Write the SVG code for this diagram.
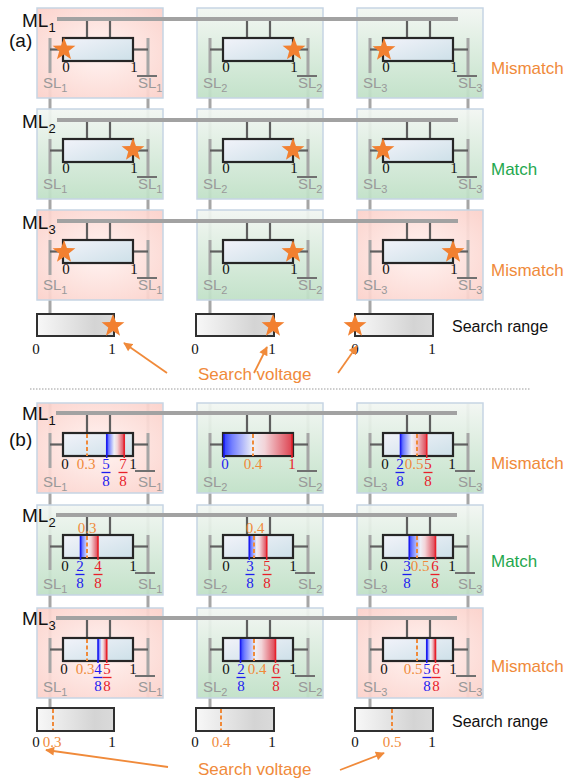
<svg xmlns="http://www.w3.org/2000/svg" xmlns:xlink="http://www.w3.org/1999/xlink" width="569" height="778" viewBox="0 0 569 778">
<defs>
<style>
.cell{stroke:#c6d5e4;stroke-width:1.5;fill-opacity:0.93}
.pink{fill:url(#gP)}
.green{fill:url(#gG)}
.ml{stroke:#a2a2a2;stroke-width:4}
.sl{stroke:#a6a6a6;stroke-width:3}
.wire{stroke:#5f5f5f;stroke-width:2.2}
.box{fill:url(#gBox);stroke:#262626;stroke-width:2.2}
.bar{fill:url(#gBar);stroke:#303030;stroke-width:2}
.band{fill:url(#gBand)}
.n{font-family:"Liberation Serif","Times New Roman",serif;font-size:15px;text-anchor:middle;fill:#111}
.slt{font-family:"Liberation Sans",Arial,sans-serif;font-size:15px;fill:#999}
.sub{font-size:11px}
.ovl{stroke:#707070;stroke-width:2}
.dash{stroke:#f08a3a;stroke-width:2;stroke-dasharray:4 2.5}
.b{fill:#1c1cf0}.r{fill:#e8202a}.o{fill:#f08a3a}
.fb{stroke:#1c1cf0;stroke-width:1.3}.fr{stroke:#e8202a;stroke-width:1.3}
.tb{stroke:#1c1cf0;stroke-width:1.6}.tr{stroke:#e8202a;stroke-width:1.6}
.lab{font-family:"Liberation Sans",Arial,sans-serif;font-size:19px;fill:#111}
.lsub{font-size:13px}
.res{font-family:"Liberation Sans",Arial,sans-serif;font-size:17px}
.star{fill:#f28030}
.arrow{stroke:#f08a3a;stroke-width:1.8;fill:none;marker-end:url(#arr)}
</style>
<radialGradient id="gP" cx="0.5" cy="0.5" r="0.7"><stop offset="0" stop-color="#fff3f1"/><stop offset="1" stop-color="#fbd0c9"/></radialGradient>
<linearGradient id="gG" x1="0" y1="0" x2="0" y2="1"><stop offset="0" stop-color="#f2f6f2"/><stop offset="1" stop-color="#bfe0c6"/></linearGradient>
<linearGradient id="gBox" x1="0" y1="0" x2="1" y2="1"><stop offset="0" stop-color="#f2f3fa"/><stop offset="1" stop-color="#cde0e8"/></linearGradient>
<linearGradient id="gBar" x1="0" y1="0" x2="1" y2="0"><stop offset="0" stop-color="#f8f8f8"/><stop offset="0.75" stop-color="#d4d4d4"/><stop offset="1" stop-color="#dadada"/></linearGradient>
<linearGradient id="gBand" x1="0" y1="0" x2="1" y2="0"><stop offset="0" stop-color="#3040ff"/><stop offset="0.12" stop-color="#7480ff"/><stop offset="0.42" stop-color="#eef0f6"/><stop offset="0.6" stop-color="#f3d4d8"/><stop offset="1" stop-color="#dd4452"/></linearGradient>
<path id="star" d="M0,-12 L2.94,-4.05 L11.41,-3.71 L4.76,1.55 L7.05,9.71 L0,5 L-7.05,9.71 L-4.76,1.55 L-11.41,-3.71 L-2.94,-4.05 Z"/>
<marker id="arr" viewBox="0 0 10 10" refX="9" refY="5" markerWidth="10" markerHeight="9" markerUnits="userSpaceOnUse" orient="auto"><path d="M0,0 L10,5 L0,10 Z" fill="#f08a3a"/></marker>
</defs>
<rect x="0" y="0" width="569" height="778" fill="#ffffff"/>

<g id="connectors">
<line class="sl" x1="50" y1="38" x2="50" y2="314"/>
<line class="sl" x1="148" y1="38" x2="148" y2="299"/>
<line class="sl" x1="210" y1="38" x2="210" y2="314"/>
<line class="sl" x1="308" y1="38" x2="308" y2="299"/>
<line class="sl" x1="370" y1="38" x2="370" y2="314"/>
<line class="sl" x1="468" y1="38" x2="468" y2="299"/>
<line class="sl" x1="50" y1="403" x2="50" y2="708"/>
<line class="sl" x1="148" y1="403" x2="148" y2="698"/>
<line class="sl" x1="210" y1="403" x2="210" y2="708"/>
<line class="sl" x1="308" y1="403" x2="308" y2="698"/>
<line class="sl" x1="370" y1="403" x2="370" y2="708"/>
<line class="sl" x1="468" y1="403" x2="468" y2="698"/>
</g>

<g id="a-r1-c1">
<rect class="cell pink" x="37" y="8" width="126" height="90"/>
<line class="wire" x1="87" y1="19" x2="87" y2="38"/><line class="wire" x1="110" y1="19" x2="110" y2="38"/>
<line class="sl" x1="50" y1="38" x2="50" y2="73"/><line class="sl" x1="148" y1="38" x2="148" y2="75"/>
<line class="wire" x1="50" y1="49.5" x2="63" y2="49.5"/><line class="wire" x1="133" y1="49.5" x2="148" y2="49.5"/>
<rect class="box" x="63" y="38" width="70" height="23"/>
<text class="n" x="66" y="72">0</text><text class="n" x="134" y="72">1</text>
<line class="ovl" x1="137" y1="76" x2="157" y2="76"/>
<text class="slt" x="43" y="88">SL<tspan class="sub" dy="4">1</tspan></text>
<text class="slt" x="138" y="88">SL<tspan class="sub" dy="4">1</tspan></text>
<use xlink:href="#star" class="star" x="64" y="49.5"/>
</g>
<g id="a-r1-c2">
<rect class="cell green" x="197" y="8" width="126" height="90"/>
<line class="wire" x1="247" y1="19" x2="247" y2="38"/><line class="wire" x1="270" y1="19" x2="270" y2="38"/>
<line class="sl" x1="210" y1="38" x2="210" y2="73"/><line class="sl" x1="308" y1="38" x2="308" y2="75"/>
<line class="wire" x1="210" y1="49.5" x2="223" y2="49.5"/><line class="wire" x1="293" y1="49.5" x2="308" y2="49.5"/>
<rect class="box" x="223" y="38" width="70" height="23"/>
<text class="n" x="226" y="72">0</text><text class="n" x="294" y="72">1</text>
<line class="ovl" x1="297" y1="76" x2="317" y2="76"/>
<text class="slt" x="203" y="88">SL<tspan class="sub" dy="4">2</tspan></text>
<text class="slt" x="298" y="88">SL<tspan class="sub" dy="4">2</tspan></text>
<use xlink:href="#star" class="star" x="294" y="49.5"/>
</g>
<g id="a-r1-c3">
<rect class="cell green" x="357" y="8" width="126" height="90"/>
<line class="wire" x1="407" y1="19" x2="407" y2="38"/><line class="wire" x1="430" y1="19" x2="430" y2="38"/>
<line class="sl" x1="370" y1="38" x2="370" y2="73"/><line class="sl" x1="468" y1="38" x2="468" y2="75"/>
<line class="wire" x1="370" y1="49.5" x2="383" y2="49.5"/><line class="wire" x1="453" y1="49.5" x2="468" y2="49.5"/>
<rect class="box" x="383" y="38" width="70" height="23"/>
<text class="n" x="386" y="72">0</text><text class="n" x="454" y="72">1</text>
<line class="ovl" x1="457" y1="76" x2="477" y2="76"/>
<text class="slt" x="363" y="88">SL<tspan class="sub" dy="4">3</tspan></text>
<text class="slt" x="458" y="88">SL<tspan class="sub" dy="4">3</tspan></text>
<use xlink:href="#star" class="star" x="384" y="50"/>
</g>

<g id="a-r2-c1">
<rect class="cell green" x="37" y="109" width="126" height="90"/>
<line class="wire" x1="87" y1="120" x2="87" y2="139"/><line class="wire" x1="110" y1="120" x2="110" y2="139"/>
<line class="sl" x1="50" y1="139" x2="50" y2="174"/><line class="sl" x1="148" y1="139" x2="148" y2="176"/>
<line class="wire" x1="50" y1="150.5" x2="63" y2="150.5"/><line class="wire" x1="133" y1="150.5" x2="148" y2="150.5"/>
<rect class="box" x="63" y="139" width="70" height="23"/>
<text class="n" x="66" y="173">0</text><text class="n" x="134" y="173">1</text>
<line class="ovl" x1="137" y1="177" x2="157" y2="177"/>
<text class="slt" x="43" y="189">SL<tspan class="sub" dy="4">1</tspan></text>
<text class="slt" x="138" y="189">SL<tspan class="sub" dy="4">1</tspan></text>
<use xlink:href="#star" class="star" x="133" y="150"/>
</g>
<g id="a-r2-c2">
<rect class="cell green" x="197" y="109" width="126" height="90"/>
<line class="wire" x1="247" y1="120" x2="247" y2="139"/><line class="wire" x1="270" y1="120" x2="270" y2="139"/>
<line class="sl" x1="210" y1="139" x2="210" y2="174"/><line class="sl" x1="308" y1="139" x2="308" y2="176"/>
<line class="wire" x1="210" y1="150.5" x2="223" y2="150.5"/><line class="wire" x1="293" y1="150.5" x2="308" y2="150.5"/>
<rect class="box" x="223" y="139" width="70" height="23"/>
<text class="n" x="226" y="173">0</text><text class="n" x="294" y="173">1</text>
<line class="ovl" x1="297" y1="177" x2="317" y2="177"/>
<text class="slt" x="203" y="189">SL<tspan class="sub" dy="4">2</tspan></text>
<text class="slt" x="298" y="189">SL<tspan class="sub" dy="4">2</tspan></text>
<use xlink:href="#star" class="star" x="293" y="150"/>
</g>
<g id="a-r2-c3">
<rect class="cell green" x="357" y="109" width="126" height="90"/>
<line class="wire" x1="407" y1="120" x2="407" y2="139"/><line class="wire" x1="430" y1="120" x2="430" y2="139"/>
<line class="sl" x1="370" y1="139" x2="370" y2="174"/><line class="sl" x1="468" y1="139" x2="468" y2="176"/>
<line class="wire" x1="370" y1="150.5" x2="383" y2="150.5"/><line class="wire" x1="453" y1="150.5" x2="468" y2="150.5"/>
<rect class="box" x="383" y="139" width="70" height="23"/>
<text class="n" x="386" y="173">0</text><text class="n" x="454" y="173">1</text>
<line class="ovl" x1="457" y1="177" x2="477" y2="177"/>
<text class="slt" x="363" y="189">SL<tspan class="sub" dy="4">3</tspan></text>
<text class="slt" x="458" y="189">SL<tspan class="sub" dy="4">3</tspan></text>
<use xlink:href="#star" class="star" x="383" y="150"/>
</g>

<g id="a-r3-c1">
<rect class="cell pink" x="37" y="210" width="126" height="90"/>
<line class="wire" x1="87" y1="221" x2="87" y2="240"/><line class="wire" x1="110" y1="221" x2="110" y2="240"/>
<line class="sl" x1="50" y1="240" x2="50" y2="275"/><line class="sl" x1="148" y1="240" x2="148" y2="277"/>
<line class="wire" x1="50" y1="251.5" x2="63" y2="251.5"/><line class="wire" x1="133" y1="251.5" x2="148" y2="251.5"/>
<rect class="box" x="63" y="240" width="70" height="23"/>
<text class="n" x="66" y="274">0</text><text class="n" x="134" y="274">1</text>
<line class="ovl" x1="137" y1="278" x2="157" y2="278"/>
<text class="slt" x="43" y="290">SL<tspan class="sub" dy="4">1</tspan></text>
<text class="slt" x="138" y="290">SL<tspan class="sub" dy="4">1</tspan></text>
<use xlink:href="#star" class="star" x="64" y="252"/>
</g>
<g id="a-r3-c2">
<rect class="cell green" x="197" y="210" width="126" height="90"/>
<line class="wire" x1="247" y1="221" x2="247" y2="240"/><line class="wire" x1="270" y1="221" x2="270" y2="240"/>
<line class="sl" x1="210" y1="240" x2="210" y2="275"/><line class="sl" x1="308" y1="240" x2="308" y2="277"/>
<line class="wire" x1="210" y1="251.5" x2="223" y2="251.5"/><line class="wire" x1="293" y1="251.5" x2="308" y2="251.5"/>
<rect class="box" x="223" y="240" width="70" height="23"/>
<text class="n" x="226" y="274">0</text><text class="n" x="294" y="274">1</text>
<line class="ovl" x1="297" y1="278" x2="317" y2="278"/>
<text class="slt" x="203" y="290">SL<tspan class="sub" dy="4">2</tspan></text>
<text class="slt" x="298" y="290">SL<tspan class="sub" dy="4">2</tspan></text>
<use xlink:href="#star" class="star" x="293" y="252"/>
</g>
<g id="a-r3-c3">
<rect class="cell pink" x="357" y="210" width="126" height="90"/>
<line class="wire" x1="407" y1="221" x2="407" y2="240"/><line class="wire" x1="430" y1="221" x2="430" y2="240"/>
<line class="sl" x1="370" y1="240" x2="370" y2="275"/><line class="sl" x1="468" y1="240" x2="468" y2="277"/>
<line class="wire" x1="370" y1="251.5" x2="383" y2="251.5"/><line class="wire" x1="453" y1="251.5" x2="468" y2="251.5"/>
<rect class="box" x="383" y="240" width="70" height="23"/>
<text class="n" x="386" y="274">0</text><text class="n" x="454" y="274">1</text>
<line class="ovl" x1="457" y1="278" x2="477" y2="278"/>
<text class="slt" x="363" y="290">SL<tspan class="sub" dy="4">3</tspan></text>
<text class="slt" x="458" y="290">SL<tspan class="sub" dy="4">3</tspan></text>
<use xlink:href="#star" class="star" x="453" y="252"/>
</g>

<g id="a-matchlines">
<line class="ml" x1="57" y1="19" x2="458" y2="19"/>
<line class="ml" x1="57" y1="120" x2="458" y2="120"/>
<line class="ml" x1="57" y1="221" x2="458" y2="221"/>
<text class="lab" x="22" y="27">ML<tspan class="lsub" dy="5">1</tspan></text>
<text class="lab" x="22" y="128">ML<tspan class="lsub" dy="5">2</tspan></text>
<text class="lab" x="22" y="229">ML<tspan class="lsub" dy="5">3</tspan></text>
<text class="lab" x="9" y="47">(a)</text>
<text class="res o" x="491" y="74">Mismatch</text>
<text class="res" x="491" y="175" fill="#1fa84f">Match</text>
<text class="res o" x="491" y="276">Mismatch</text>
</g>

<g id="a-search">
<rect class="bar" x="37" y="314" width="77" height="22"/>
<rect class="bar" x="196" y="314" width="78" height="22"/>
<rect class="bar" x="355" y="314" width="78" height="22"/>
<text class="n" x="36" y="354">0</text><text class="n" x="112" y="354">1</text>
<text class="n" x="195" y="354">0</text><text class="n" x="272" y="354">1</text>
<text class="n" x="355" y="354">0</text><text class="n" x="432" y="354">1</text>
<use xlink:href="#star" class="star" x="113" y="326"/>
<use xlink:href="#star" class="star" x="273" y="326"/>
<use xlink:href="#star" class="star" x="355" y="326"/>
<text class="res" x="452" y="332" style="font-size:16px" fill="#111">Search range</text>
<text class="res o" x="198" y="380">Search voltage</text>
<line class="arrow" x1="167" y1="373" x2="124" y2="343"/>
<line class="arrow" x1="254" y1="373" x2="267" y2="347"/>
<line class="arrow" x1="338" y1="373" x2="357" y2="346"/>
</g>

<line x1="30" y1="389" x2="530" y2="389" stroke="#9a9a9a" stroke-width="1" stroke-dasharray="1.5 1.5"/>

<g id="b-r1-c1">
<rect class="cell pink" x="37" y="403" width="126" height="90"/>
<line class="wire" x1="87" y1="413" x2="87" y2="433"/><line class="wire" x1="110" y1="413" x2="110" y2="433"/>
<line class="sl" x1="50" y1="433" x2="50" y2="468"/><line class="sl" x1="148" y1="433" x2="148" y2="470"/>
<line class="wire" x1="50" y1="444.5" x2="63" y2="444.5"/><line class="wire" x1="133" y1="444.5" x2="148" y2="444.5"/>
<rect class="box" x="63" y="433" width="70" height="23"/>
<rect class="band" x="106.75" y="434" width="17.5" height="21"/>
<line class="tb" x1="106.75" y1="434" x2="106.75" y2="458"/><line class="tr" x1="124.25" y1="434" x2="124.25" y2="458"/>
<line class="dash" x1="87" y1="434" x2="87" y2="456"/>
<text class="n" x="65" y="469">0</text><text class="n o" x="86" y="469">0.3</text>
<text class="n b" x="106" y="469">5</text><line class="fb" x1="101.5" y1="472.5" x2="110.5" y2="472.5"/><text class="n b" x="106" y="486">8</text>
<text class="n r" x="123" y="469">7</text><line class="fr" x1="118.5" y1="472.5" x2="127.5" y2="472.5"/><text class="n r" x="123" y="486">8</text>
<text class="n" x="133" y="469">1</text>
<line class="ovl" x1="135" y1="471" x2="155" y2="471"/>
<text class="slt" x="43" y="487">SL<tspan class="sub" dy="4">1</tspan></text>
<text class="slt" x="138" y="487">SL<tspan class="sub" dy="4">1</tspan></text>
</g>
<g id="b-r1-c2">
<rect class="cell green" x="197" y="403" width="126" height="90"/>
<line class="wire" x1="247" y1="413" x2="247" y2="433"/><line class="wire" x1="270" y1="413" x2="270" y2="433"/>
<line class="sl" x1="210" y1="433" x2="210" y2="468"/><line class="sl" x1="308" y1="433" x2="308" y2="470"/>
<line class="wire" x1="210" y1="444.5" x2="223" y2="444.5"/><line class="wire" x1="293" y1="444.5" x2="308" y2="444.5"/>
<rect class="box" x="223" y="433" width="70" height="23"/>
<rect class="band" x="224" y="434" width="68" height="21"/>
<line class="tb" x1="224" y1="434" x2="224" y2="458"/><line class="tr" x1="292" y1="434" x2="292" y2="458"/>
<line class="dash" x1="253" y1="434" x2="253" y2="456"/>
<text class="n b" x="225" y="469">0</text><text class="n o" x="253" y="469">0.4</text><text class="n r" x="292" y="469">1</text>
<line class="ovl" x1="297" y1="471" x2="317" y2="471"/>
<text class="slt" x="203" y="487">SL<tspan class="sub" dy="4">2</tspan></text>
<text class="slt" x="298" y="487">SL<tspan class="sub" dy="4">2</tspan></text>
</g>
<g id="b-r1-c3">
<rect class="cell green" x="357" y="403" width="126" height="90"/>
<line class="wire" x1="407" y1="413" x2="407" y2="433"/><line class="wire" x1="430" y1="413" x2="430" y2="433"/>
<line class="sl" x1="370" y1="433" x2="370" y2="468"/><line class="sl" x1="468" y1="433" x2="468" y2="470"/>
<line class="wire" x1="370" y1="444.5" x2="383" y2="444.5"/><line class="wire" x1="453" y1="444.5" x2="468" y2="444.5"/>
<rect class="box" x="383" y="433" width="70" height="23"/>
<rect class="band" x="400.5" y="434" width="26.25" height="21"/>
<line class="tb" x1="400.5" y1="434" x2="400.5" y2="458"/><line class="tr" x1="426.75" y1="434" x2="426.75" y2="458"/>
<line class="dash" x1="417" y1="434" x2="417" y2="456"/>
<text class="n" x="385" y="469">0</text>
<text class="n b" x="400" y="469">2</text><line class="fb" x1="395.5" y1="472.5" x2="404.5" y2="472.5"/><text class="n b" x="400" y="486">8</text>
<text class="n o" x="414" y="469">0.5</text>
<text class="n r" x="428" y="469">5</text><line class="fr" x1="423.5" y1="472.5" x2="432.5" y2="472.5"/><text class="n r" x="428" y="486">8</text>
<text class="n" x="452" y="469">1</text>
<line class="ovl" x1="455" y1="471" x2="475" y2="471"/>
<text class="slt" x="363" y="487">SL<tspan class="sub" dy="4">3</tspan></text>
<text class="slt" x="458" y="487">SL<tspan class="sub" dy="4">3</tspan></text>
</g>

<g id="b-r2-c1">
<rect class="cell green" x="37" y="505" width="126" height="90"/>
<line class="wire" x1="87" y1="515" x2="87" y2="535"/><line class="wire" x1="110" y1="515" x2="110" y2="535"/>
<line class="sl" x1="50" y1="535" x2="50" y2="570"/><line class="sl" x1="148" y1="535" x2="148" y2="572"/>
<line class="wire" x1="50" y1="546.5" x2="63" y2="546.5"/><line class="wire" x1="133" y1="546.5" x2="148" y2="546.5"/>
<rect class="box" x="63" y="535" width="70" height="23"/>
<rect class="band" x="80.5" y="536" width="17.5" height="21"/>
<line class="tb" x1="80.5" y1="536" x2="80.5" y2="560"/><line class="tr" x1="98" y1="536" x2="98" y2="560"/>
<line class="dash" x1="87" y1="536" x2="87" y2="558"/>
<text class="n o" x="87" y="533">0.3</text>
<text class="n" x="65" y="571">0</text>
<text class="n b" x="80" y="571">2</text><line class="fb" x1="75.5" y1="574.5" x2="84.5" y2="574.5"/><text class="n b" x="80" y="588">8</text>
<text class="n r" x="98" y="571">4</text><line class="fr" x1="93.5" y1="574.5" x2="102.5" y2="574.5"/><text class="n r" x="98" y="588">8</text>
<text class="n" x="133" y="571">1</text>
<line class="ovl" x1="135" y1="573" x2="155" y2="573"/>
<text class="slt" x="43" y="589">SL<tspan class="sub" dy="4">1</tspan></text>
<text class="slt" x="138" y="589">SL<tspan class="sub" dy="4">1</tspan></text>
</g>
<g id="b-r2-c2">
<rect class="cell green" x="197" y="505" width="126" height="90"/>
<line class="wire" x1="247" y1="515" x2="247" y2="535"/><line class="wire" x1="270" y1="515" x2="270" y2="535"/>
<line class="sl" x1="210" y1="535" x2="210" y2="570"/><line class="sl" x1="308" y1="535" x2="308" y2="572"/>
<line class="wire" x1="210" y1="546.5" x2="223" y2="546.5"/><line class="wire" x1="293" y1="546.5" x2="308" y2="546.5"/>
<rect class="box" x="223" y="535" width="70" height="23"/>
<rect class="band" x="249.25" y="536" width="17.5" height="21"/>
<line class="tb" x1="249.25" y1="536" x2="249.25" y2="560"/><line class="tr" x1="266.75" y1="536" x2="266.75" y2="560"/>
<line class="dash" x1="254" y1="536" x2="254" y2="558"/>
<text class="n o" x="255" y="533">0.4</text>
<text class="n" x="226" y="571">0</text>
<text class="n b" x="250" y="571">3</text><line class="fb" x1="245.5" y1="574.5" x2="254.5" y2="574.5"/><text class="n b" x="250" y="588">8</text>
<text class="n r" x="267" y="571">5</text><line class="fr" x1="262.5" y1="574.5" x2="271.5" y2="574.5"/><text class="n r" x="267" y="588">8</text>
<text class="n" x="293" y="571">1</text>
<line class="ovl" x1="295" y1="573" x2="315" y2="573"/>
<text class="slt" x="203" y="589">SL<tspan class="sub" dy="4">2</tspan></text>
<text class="slt" x="298" y="589">SL<tspan class="sub" dy="4">2</tspan></text>
</g>
<g id="b-r2-c3">
<rect class="cell green" x="357" y="505" width="126" height="90"/>
<line class="wire" x1="407" y1="515" x2="407" y2="535"/><line class="wire" x1="430" y1="515" x2="430" y2="535"/>
<line class="sl" x1="370" y1="535" x2="370" y2="570"/><line class="sl" x1="468" y1="535" x2="468" y2="572"/>
<line class="wire" x1="370" y1="546.5" x2="383" y2="546.5"/><line class="wire" x1="453" y1="546.5" x2="468" y2="546.5"/>
<rect class="box" x="383" y="535" width="70" height="23"/>
<rect class="band" x="409.25" y="536" width="26.25" height="21"/>
<line class="tb" x1="409.25" y1="536" x2="409.25" y2="560"/><line class="tr" x1="435.5" y1="536" x2="435.5" y2="560"/>
<line class="dash" x1="417" y1="536" x2="417" y2="558"/>
<text class="n" x="384" y="571">0</text>
<text class="n b" x="407" y="571">3</text><line class="fb" x1="402.5" y1="574.5" x2="411.5" y2="574.5"/><text class="n b" x="407" y="588">8</text>
<text class="n o" x="420" y="571">0.5</text>
<text class="n r" x="435" y="571">6</text><line class="fr" x1="430.5" y1="574.5" x2="439.5" y2="574.5"/><text class="n r" x="435" y="588">8</text>
<text class="n" x="452" y="571">1</text>
<line class="ovl" x1="455" y1="573" x2="475" y2="573"/>
<text class="slt" x="363" y="589">SL<tspan class="sub" dy="4">3</tspan></text>
<text class="slt" x="458" y="589">SL<tspan class="sub" dy="4">3</tspan></text>
</g>

<g id="b-r3-c1">
<rect class="cell pink" x="37" y="608" width="126" height="90"/>
<line class="wire" x1="87" y1="618" x2="87" y2="638"/><line class="wire" x1="110" y1="618" x2="110" y2="638"/>
<line class="sl" x1="50" y1="638" x2="50" y2="673"/><line class="sl" x1="148" y1="638" x2="148" y2="675"/>
<line class="wire" x1="50" y1="649.5" x2="63" y2="649.5"/><line class="wire" x1="133" y1="649.5" x2="148" y2="649.5"/>
<rect class="box" x="63" y="638" width="70" height="23"/>
<rect class="band" x="98" y="639" width="8.75" height="21"/>
<line class="tb" x1="98" y1="639" x2="98" y2="663"/><line class="tr" x1="106.75" y1="639" x2="106.75" y2="663"/>
<line class="dash" x1="87" y1="639" x2="87" y2="661"/>
<text class="n" x="64" y="674">0</text><text class="n o" x="85" y="674">0.3</text>
<text class="n b" x="98" y="674">4</text><line class="fb" x1="93.5" y1="677.5" x2="102.5" y2="677.5"/><text class="n b" x="98" y="691">8</text>
<text class="n r" x="107" y="674">5</text><line class="fr" x1="102.5" y1="677.5" x2="111.5" y2="677.5"/><text class="n r" x="107" y="691">8</text>
<text class="n" x="133" y="674">1</text>
<line class="ovl" x1="135" y1="676" x2="155" y2="676"/>
<text class="slt" x="43" y="692">SL<tspan class="sub" dy="4">1</tspan></text>
<text class="slt" x="138" y="692">SL<tspan class="sub" dy="4">1</tspan></text>
</g>
<g id="b-r3-c2">
<rect class="cell green" x="197" y="608" width="126" height="90"/>
<line class="wire" x1="247" y1="618" x2="247" y2="638"/><line class="wire" x1="270" y1="618" x2="270" y2="638"/>
<line class="sl" x1="210" y1="638" x2="210" y2="673"/><line class="sl" x1="308" y1="638" x2="308" y2="675"/>
<line class="wire" x1="210" y1="649.5" x2="223" y2="649.5"/><line class="wire" x1="293" y1="649.5" x2="308" y2="649.5"/>
<rect class="box" x="223" y="638" width="70" height="23"/>
<rect class="band" x="240.5" y="639" width="35" height="21"/>
<line class="tb" x1="240.5" y1="639" x2="240.5" y2="663"/><line class="tr" x1="275.5" y1="639" x2="275.5" y2="663"/>
<line class="dash" x1="254" y1="639" x2="254" y2="661"/>
<text class="n" x="226" y="674">0</text>
<text class="n b" x="241" y="674">2</text><line class="fb" x1="236.5" y1="677.5" x2="245.5" y2="677.5"/><text class="n b" x="241" y="691">8</text>
<text class="n o" x="257" y="674">0.4</text>
<text class="n r" x="276" y="674">6</text><line class="fr" x1="271.5" y1="677.5" x2="280.5" y2="677.5"/><text class="n r" x="276" y="691">8</text>
<text class="n" x="293" y="674">1</text>
<line class="ovl" x1="295" y1="676" x2="315" y2="676"/>
<text class="slt" x="203" y="692">SL<tspan class="sub" dy="4">2</tspan></text>
<text class="slt" x="298" y="692">SL<tspan class="sub" dy="4">2</tspan></text>
</g>
<g id="b-r3-c3">
<rect class="cell pink" x="357" y="608" width="126" height="90"/>
<line class="wire" x1="407" y1="618" x2="407" y2="638"/><line class="wire" x1="430" y1="618" x2="430" y2="638"/>
<line class="sl" x1="370" y1="638" x2="370" y2="673"/><line class="sl" x1="468" y1="638" x2="468" y2="675"/>
<line class="wire" x1="370" y1="649.5" x2="383" y2="649.5"/><line class="wire" x1="453" y1="649.5" x2="468" y2="649.5"/>
<rect class="box" x="383" y="638" width="70" height="23"/>
<rect class="band" x="426.75" y="639" width="8.75" height="21"/>
<line class="tb" x1="426.75" y1="639" x2="426.75" y2="663"/><line class="tr" x1="435.5" y1="639" x2="435.5" y2="663"/>
<line class="dash" x1="417" y1="639" x2="417" y2="661"/>
<text class="n" x="384" y="674">0</text><text class="n o" x="413" y="674">0.5</text>
<text class="n b" x="427" y="674">5</text><line class="fb" x1="422.5" y1="677.5" x2="431.5" y2="677.5"/><text class="n b" x="427" y="691">8</text>
<text class="n r" x="436" y="674">6</text><line class="fr" x1="431.5" y1="677.5" x2="440.5" y2="677.5"/><text class="n r" x="436" y="691">8</text>
<text class="n" x="453" y="674">1</text>
<line class="ovl" x1="456" y1="676" x2="476" y2="676"/>
<text class="slt" x="363" y="692">SL<tspan class="sub" dy="4">3</tspan></text>
<text class="slt" x="458" y="692">SL<tspan class="sub" dy="4">3</tspan></text>
</g>

<g id="b-matchlines">
<line class="ml" x1="56" y1="413" x2="457" y2="413"/>
<line class="ml" x1="56" y1="515" x2="457" y2="515"/>
<line class="ml" x1="56" y1="618" x2="457" y2="618"/>
<text class="lab" x="22" y="420">ML<tspan class="lsub" dy="5">1</tspan></text>
<text class="lab" x="22" y="522">ML<tspan class="lsub" dy="5">2</tspan></text>
<text class="lab" x="22" y="625">ML<tspan class="lsub" dy="5">3</tspan></text>
<text class="lab" x="9" y="446">(b)</text>
<text class="res o" x="491" y="469">Mismatch</text>
<text class="res" x="491" y="567" fill="#1fa84f">Match</text>
<text class="res o" x="491" y="672">Mismatch</text>
</g>

<g id="b-search">
<rect class="bar" x="37" y="708" width="77" height="23"/>
<rect class="bar" x="196" y="708" width="78" height="23"/>
<rect class="bar" x="355" y="708" width="78" height="23"/>
<line class="dash" x1="53" y1="709" x2="53" y2="730"/>
<line class="dash" x1="221" y1="709" x2="221" y2="730"/>
<line class="dash" x1="392" y1="709" x2="392" y2="730"/>
<text class="n" x="36" y="747">0</text><text class="n o" x="52" y="747">0.3</text><text class="n" x="112" y="747">1</text>
<text class="n" x="195" y="747">0</text><text class="n o" x="221" y="747">0.4</text><text class="n" x="272" y="747">1</text>
<text class="n" x="355" y="747">0</text><text class="n o" x="392" y="747">0.5</text><text class="n" x="432" y="747">1</text>
<text class="res" x="452" y="727" style="font-size:16px" fill="#111">Search range</text>
<text class="res o" x="198" y="775">Search voltage</text>
<line class="arrow" x1="168" y1="767" x2="46" y2="750"/>
<line class="arrow" x1="340" y1="770" x2="384" y2="753"/>
</g>
</svg>
